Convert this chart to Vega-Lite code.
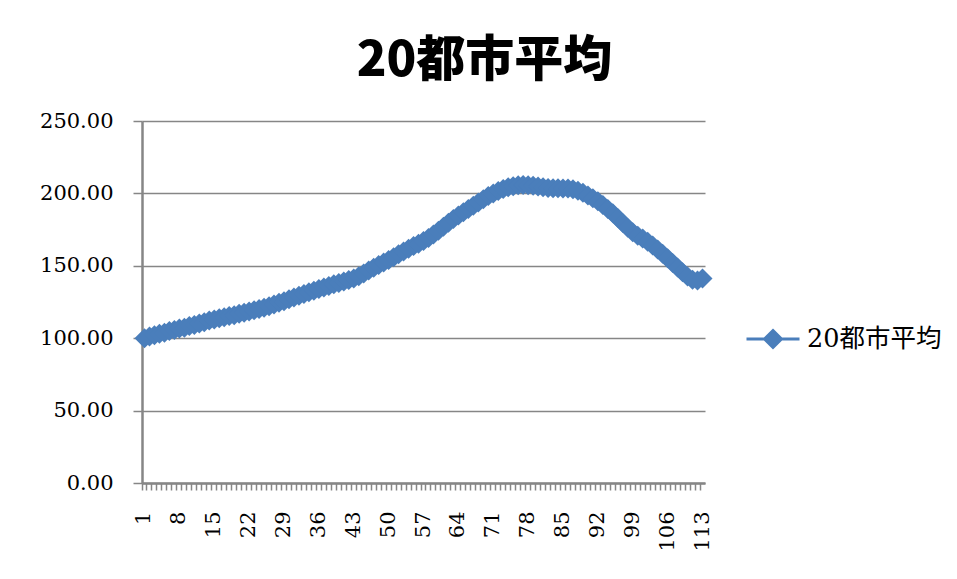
{
  "$schema": "https://vega.github.io/schema/vega-lite/v6.json",
  "autosize": "none",
  "width": 563,
  "height": 362,
  "padding": {"left": 142, "top": 121, "right": 252, "bottom": 96},
  "background": "white",
  "title": {
    "text": "20都市平均",
    "font": "Noto Sans CJK JP",
    "fontSize": 49,
    "fontWeight": 900,
    "color": "#000000",
    "anchor": "middle",
    "dx": 61,
    "offset": 24
  },
  "config": {
    "view": {"stroke": null},
    "axis": {"labelColor": "#000000"}
  },
  "data": {
    "values": [
      {"x": 1, "y": 100.0}, {"x": 2, "y": 101.2}, {"x": 3, "y": 102.0}, {"x": 4, "y": 103.1}, {"x": 5, "y": 103.8},
      {"x": 6, "y": 104.9}, {"x": 7, "y": 105.6}, {"x": 8, "y": 106.7}, {"x": 9, "y": 107.3}, {"x": 10, "y": 108.4},
      {"x": 11, "y": 109.2}, {"x": 12, "y": 110.1}, {"x": 13, "y": 111.0}, {"x": 14, "y": 112.2}, {"x": 15, "y": 113.0},
      {"x": 16, "y": 113.8}, {"x": 17, "y": 114.5}, {"x": 18, "y": 115.3}, {"x": 19, "y": 115.9}, {"x": 20, "y": 116.8},
      {"x": 21, "y": 117.6}, {"x": 22, "y": 118.5}, {"x": 23, "y": 119.3}, {"x": 24, "y": 120.1}, {"x": 25, "y": 121.0},
      {"x": 26, "y": 122.1}, {"x": 27, "y": 123.2}, {"x": 28, "y": 124.4}, {"x": 29, "y": 125.6}, {"x": 30, "y": 126.9},
      {"x": 31, "y": 128.1}, {"x": 32, "y": 129.3}, {"x": 33, "y": 130.5}, {"x": 34, "y": 131.7}, {"x": 35, "y": 132.8},
      {"x": 36, "y": 133.9}, {"x": 37, "y": 135.0}, {"x": 38, "y": 136.1}, {"x": 39, "y": 137.2}, {"x": 40, "y": 138.2},
      {"x": 41, "y": 139.2}, {"x": 42, "y": 140.2}, {"x": 43, "y": 141.3}, {"x": 44, "y": 142.8}, {"x": 45, "y": 144.7},
      {"x": 46, "y": 146.8}, {"x": 47, "y": 148.7}, {"x": 48, "y": 150.5}, {"x": 49, "y": 152.2}, {"x": 50, "y": 154.0},
      {"x": 51, "y": 155.9}, {"x": 52, "y": 157.9}, {"x": 53, "y": 159.9}, {"x": 54, "y": 161.8}, {"x": 55, "y": 163.6},
      {"x": 56, "y": 165.3}, {"x": 57, "y": 167.1}, {"x": 58, "y": 169.2}, {"x": 59, "y": 171.6}, {"x": 60, "y": 174.2},
      {"x": 61, "y": 177.0}, {"x": 62, "y": 179.8}, {"x": 63, "y": 182.4}, {"x": 64, "y": 184.8}, {"x": 65, "y": 187.0},
      {"x": 66, "y": 189.3}, {"x": 67, "y": 191.5}, {"x": 68, "y": 193.8}, {"x": 69, "y": 196.0}, {"x": 70, "y": 198.2},
      {"x": 71, "y": 200.0}, {"x": 72, "y": 201.7}, {"x": 73, "y": 203.0}, {"x": 74, "y": 204.2}, {"x": 75, "y": 205.0},
      {"x": 76, "y": 205.6}, {"x": 77, "y": 205.8}, {"x": 78, "y": 205.6}, {"x": 79, "y": 205.2}, {"x": 80, "y": 204.7},
      {"x": 81, "y": 204.2}, {"x": 82, "y": 203.8}, {"x": 83, "y": 203.6}, {"x": 84, "y": 203.5}, {"x": 85, "y": 203.4},
      {"x": 86, "y": 203.3}, {"x": 87, "y": 202.8}, {"x": 88, "y": 201.8}, {"x": 89, "y": 200.4}, {"x": 90, "y": 198.6},
      {"x": 91, "y": 196.6}, {"x": 92, "y": 194.5}, {"x": 93, "y": 192.0}, {"x": 94, "y": 189.2}, {"x": 95, "y": 186.3},
      {"x": 96, "y": 183.0}, {"x": 97, "y": 179.6}, {"x": 98, "y": 176.2}, {"x": 99, "y": 173.2}, {"x": 100, "y": 170.8},
      {"x": 101, "y": 168.8}, {"x": 102, "y": 166.6}, {"x": 103, "y": 164.0}, {"x": 104, "y": 161.2}, {"x": 105, "y": 158.3},
      {"x": 106, "y": 155.2}, {"x": 107, "y": 152.0}, {"x": 108, "y": 148.8}, {"x": 109, "y": 145.6}, {"x": 110, "y": 142.6},
      {"x": 111, "y": 140.4}, {"x": 112, "y": 139.8}, {"x": 113, "y": 141.2}
    ]
  },
  "encoding": {
    "y": {
      "field": "y",
      "type": "quantitative",
      "scale": {"domain": [0, 250], "nice": false, "zero": true},
      "axis": {
        "title": null,
        "values": [0, 50, 100, 150, 200, 250],
        "format": ".2f",
        "labelFont": "DejaVu Serif",
        "labelFontSize": 21,
        "labelPadding": 20,
        "tickSize": 9,
        "tickColor": "#868686",
        "tickWidth": 1.5,
        "domainColor": "#868686",
        "domainWidth": 2.5,
        "gridColor": "#868686",
        "gridWidth": 1.5
      }
    },
    "color": {
      "datum": "20都市平均",
      "type": "nominal",
      "scale": {"range": ["#4A7EBB"]},
      "legend": {
        "orient": "none",
        "legendX": 603,
        "legendY": 190,
        "title": null,
        "padding": 0,
        "symbolType": "M-1,0L1,0M0,-0.32L0.32,0L0,0.32L-0.32,0Z",
        "symbolSize": 2809,
        "symbolStrokeWidth": 3,
        "symbolFillColor": "#4A7EBB",
        "symbolStrokeColor": "#4A7EBB",
        "labelFont": "DejaVu Serif, Noto Sans CJK JP",
        "labelFontSize": 25.5,
        "labelOffset": 6,
        "labelColor": "#000000"
      }
    }
  },
  "layer": [
    {
      "mark": {"type": "line", "strokeWidth": 4},
      "encoding": {
        "x": {
          "field": "x",
          "type": "ordinal",
          "scale": {"type": "band", "paddingInner": 0, "paddingOuter": 0},
          "axis": {
            "orient": "bottom",
            "title": null,
            "values": [1, 8, 15, 22, 29, 36, 43, 50, 57, 64, 71, 78, 85, 92, 99, 106, 113],
            "labelAngle": 270,
            "labelFont": "DejaVu Serif",
            "labelFontSize": 21,
            "labelPadding": 28,
            "ticks": false,
            "grid": false,
            "domainColor": "#868686",
            "domainWidth": 2.5
          }
        }
      }
    },
    {
      "mark": {"type": "point", "shape": "diamond", "filled": true, "size": 400, "opacity": 1},
      "encoding": {
        "x": {
          "field": "x",
          "type": "ordinal",
          "scale": {"type": "band", "paddingInner": 0, "paddingOuter": 0},
          "axis": {
            "orient": "bottom",
            "title": null,
            "labels": false,
            "domain": false,
            "grid": false,
            "ticks": true,
            "bandPosition": 0,
            "tickSize": 7,
            "tickColor": "#868686",
            "tickWidth": 1.5
          }
        }
      }
    }
  ],
  "resolve": {"axis": {"x": "independent"}}
}
